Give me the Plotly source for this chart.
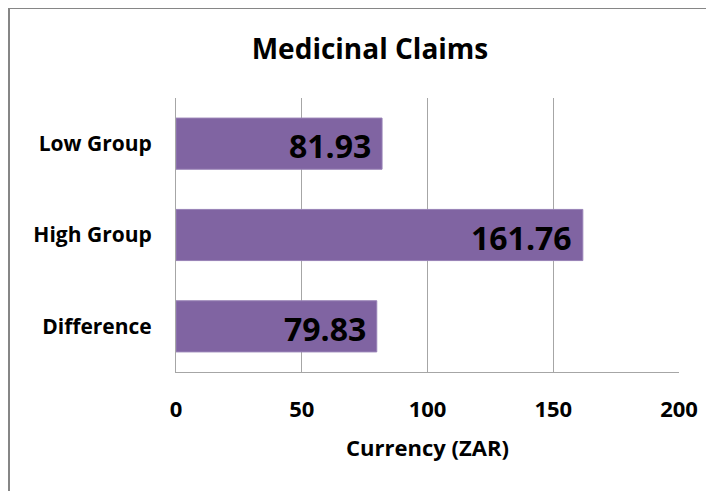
import plotly.graph_objects as go

categories = ["Low Group", "High Group", "Difference"]
values = [81.93, 161.76, 79.83]
x_ticks = [0, 50, 100, 150, 200]

# page body has an 8px margin; figure is sized to fit the window
W, H = 706, 483
L, R, T, B = 168, 35, 90, 119
pw, ph = W - L - R, H - T - B

fig = go.Figure(go.Bar(
    y=categories,
    x=values,
    orientation="h",
    width=0.56,
    marker=dict(color="#8064A2", line=dict(color="#9882B6", width=1)),
    hoverinfo="x+y",
))

for c, v in zip(categories, values):
    fig.add_annotation(
        x=v, y=c, xref="x", yref="y", text=f"<b>{v:.2f}</b>",
        showarrow=False, xanchor="right", yanchor="middle",
        xshift=-9, yshift=-2,
        font=dict(family="Open Sans", size=32, color="black"),
    )

def px_x(p):
    return (p - L) / pw

def px_y(p):
    return (H - B - p) / ph

fig.update_layout(
    width=W, height=H,
    margin=dict(l=L, r=R, t=T, b=B),
    paper_bgcolor="white",
    plot_bgcolor="white",
    showlegend=False,
    title=dict(text="<b>Medicinal Claims</b>", x=(370 - 8) / W, xanchor="center",
               y=1 - 41 / H, yanchor="middle",
               font=dict(family="Open Sans", size=28, color="black")),
    font=dict(family="Open Sans", color="black"),
    xaxis=dict(
        range=[0, 200], tickvals=x_ticks, ticktext=[f"<b>{t}</b>" for t in x_ticks],
        showgrid=True, gridcolor="#A6A6A6", gridwidth=1,
        zeroline=False, showline=True, linecolor="#A6A6A6", linewidth=1,
        ticks="outside", ticklen=18, tickcolor="rgba(0,0,0,0)",
        tickfont=dict(size=22, color="black"),
        title=dict(text="<b>Currency (ZAR)</b>", font=dict(size=22, color="black"), standoff=18),
        fixedrange=True,
    ),
    yaxis=dict(
        categoryorder="array", categoryarray=categories[::-1],
        tickvals=categories, ticktext=[f"<b>{c}</b>" for c in categories],
        showgrid=False, showline=True, linecolor="#A6A6A6", linewidth=1,
        ticks="outside", ticklen=19, tickcolor="rgba(0,0,0,0)",
        tickfont=dict(size=21, color="black"),
        range=[-0.5, 2.5],
        fixedrange=True,
    ),
    shapes=[
        dict(type="line", xref="paper", yref="paper",
             x0=px_x(1), x1=px_x(1), y0=px_y(H + 20), y1=px_y(0),
             line=dict(color="#868686", width=2)),
        dict(type="line", xref="paper", yref="paper",
             x0=px_x(1), x1=px_x(W + 20), y0=px_y(0), y1=px_y(0),
             line=dict(color="#868686", width=2)),
    ],
)

fig.write_html("out.html")
